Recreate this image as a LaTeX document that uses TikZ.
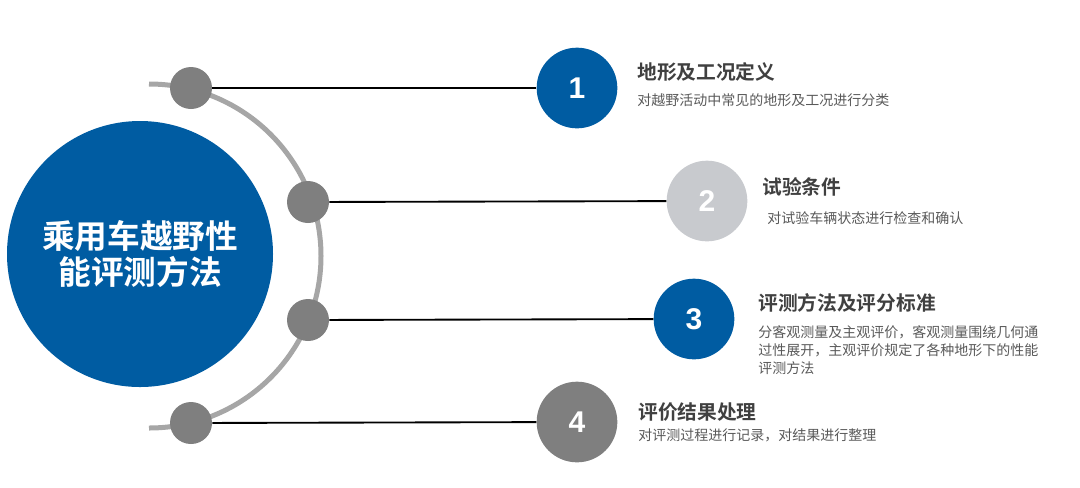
\documentclass[tikz,border=0pt]{standalone}
\usepackage{fontspec}
\setmainfont{Noto Sans CJK SC}[BoldFont={Noto Sans CJK SC Bold}]
\newfontfamily\digitfont{Liberation Sans}
\usetikzlibrary{positioning}

\definecolor{mainblue}{HTML}{005CA2}
\definecolor{dotgray}{HTML}{7F7F7F}
\definecolor{arcgray}{HTML}{A6A6A6}
\definecolor{palegray}{HTML}{C8CACE}
\definecolor{titlegray}{HTML}{404040}
\definecolor{textgray}{HTML}{595959}

\tikzset{
    dot/.style={circle, fill=dotgray, minimum size=31.5pt, inner sep=0pt},
    numcircle/.style={circle, fill=#1, minimum size=60.5pt, inner sep=0pt,
        text=white, font=\digitfont\bfseries\fontsize{22.5}{26}\selectfont},
    itemtitle/.style={anchor=west, inner sep=0pt, text=titlegray,
        font=\bfseries\fontsize{14.8}{17}\selectfont},
    itemtext/.style={anchor=west, inner sep=0pt, align=left, text=textgray,
        font=\fontsize{10.5}{13.5}\selectfont}
}

\begin{document}
\begin{tikzpicture}[x=0.75pt, y=-0.75pt]
    \useasboundingbox (0,0) rectangle (1080,487);

    % Centre circle
    \node[circle, fill=mainblue, minimum size=199.5pt, inner sep=0pt, text=white,
        align=center, font=\bfseries\fontsize{24.5}{27}\selectfont]
        (main) at (140,254) {乘用车越野性\\能评测方法};

    % Arc
    \draw[arcgray, line width=3.75pt] (149,84) arc[start angle=-90, end angle=90, radius=172];

    % Dots, number circles and connectors
    \foreach \i/\dx/\dy/\nx/\ny/\col in {1/191/88/577/88/mainblue,
                                         2/308/202/707/201/palegray,
                                         3/308/320/694/319/mainblue,
                                         4/191/423/577/422/dotgray} {
        \node[dot] (d\i) at (\dx,\dy) {};
        \node[numcircle=\col] (n\i) at (\nx,\ny) {\i};
        \draw[line width=1.4pt] (d\i) -- (n\i);
    }

    % Titles
    \node[itemtitle] (t1) at (637,72) {地形及工况定义};
    \node[itemtitle] (t2) at (762,187) {试验条件};
    \node[itemtitle] (t3) at (758,303) {评测方法及评分标准};
    \node[itemtitle] (t4) at (638,412) {评价结果处理};

    % Descriptions
    \node[itemtext] (s1) at (637,100) {对越野活动中常见的地形及工况进行分类};
    \node[itemtext] (s2) at (767,218) {对试验车辆状态进行检查和确认};
    \node[itemtext] (s3) at (758,350) {分客观测量及主观评价，客观测量围绕几何通\\过性展开，主观评价规定了各种地形下的性能\\评测方法};
    \node[itemtext] (s4) at (638,435) {对评测过程进行记录，对结果进行整理};
\end{tikzpicture}
\end{document}
